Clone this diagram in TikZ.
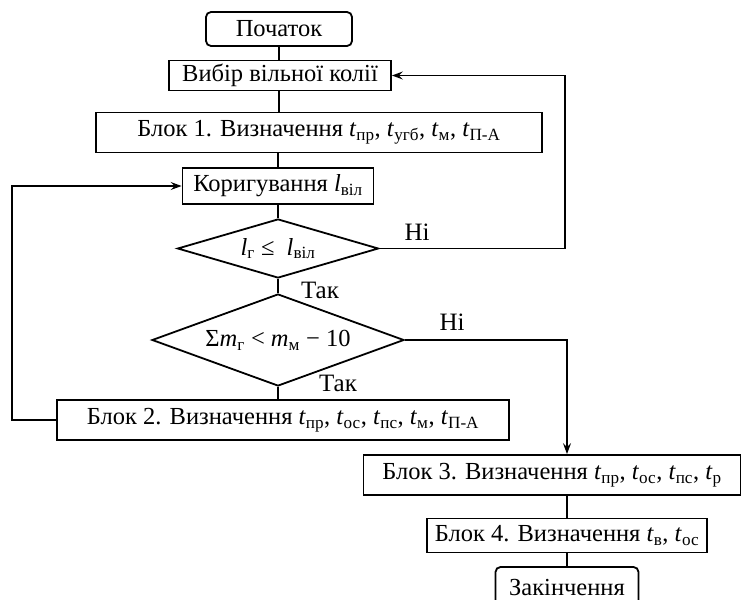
\documentclass[tikz,border=0pt]{standalone}
\usepackage{fontspec}
\setmainfont{Liberation Serif}
\usetikzlibrary{shapes.geometric,arrows.meta}
\newcommand{\vel}[2]{\textit{#1}\textsubscript{#2}}

\begin{document}
\begin{tikzpicture}[x=1pt, y=-1pt,
        lnk/.style={line width=1.8pt},
        strl/.style={lnk, -{Stealth[length=11pt, width=8pt, inset=4pt]}},
        blok/.style={draw, line width=1.8pt, inner sep=0pt, font=\fontsize{24.5}{28}\selectfont},
        term/.style={blok, rounded corners=5pt},
        umova/.style={blok, diamond, aspect=3},
        pidpys/.style={font=\fontsize{25}{28}\selectfont, inner sep=0pt}]
    \useasboundingbox (0,0) rectangle (743,599);

    \node[term, minimum width=146, minimum height=34] (pochatok) at (279,29) {Початок};
    \node[blok, minimum width=222, minimum height=30] (vybir) at (280,75.5) {Вибір вільної колії};
    \node[blok, minimum width=446, minimum height=40] (blok1) at (319,132.5) {Блок 1. Визначення \vel{t}{пр}, \vel{t}{угб}, \vel{t}{м}, \vel{t}{П-А}};
    \node[blok, minimum width=191, minimum height=36] (koryg) at (278,186) {Коригування \vel{l}{віл}};
    \node[umova, minimum width=201, minimum height=59] (umova1) at (278,248.5) {\vel{l}{г} ≤ \ \vel{l}{віл}};
    \node[umova, minimum width=252, minimum height=92] (umova2) at (278,340) {Σ\vel{m}{г} < \vel{m}{м} − 10};
    \node[blok, minimum width=452, minimum height=40] (blok2) at (283,420) {Блок 2. Визначення \vel{t}{пр}, \vel{t}{ос}, \vel{t}{пс}, \vel{t}{м}, \vel{t}{П-А}};
    \node[blok, minimum width=377, minimum height=40] (blok3) at (552,475) {Блок 3. Визначення \vel{t}{пр}, \vel{t}{ос}, \vel{t}{пс}, \vel{t}{р}};
    \node[blok, minimum width=280, minimum height=34] (blok4) at (567,535.5) {Блок 4. Визначення \vel{t}{в}, \vel{t}{ос}};
    \node[term, minimum width=143, minimum height=40] (kinets) at (567,587) {Закінчення};

    \node[pidpys] (ni1) at (417,232) {Ні};
    \node[pidpys] (tak1) at (320,290) {Так};
    \node[pidpys] (ni2) at (452,322) {Ні};
    \node[pidpys] (tak2) at (338,383) {Так};

    \coordinate (sprava) at (565,0);
    \coordinate (zliva) at (12,0);

    \draw[lnk] (pochatok) -- (pochatok |- vybir.north);
    \draw[lnk] (pochatok |- vybir.south) -- (pochatok |- blok1.north);
    \draw[lnk] (koryg |- blok1.south) -- (koryg);
    \draw[lnk] (koryg) -- (umova1);
    \draw[lnk] (umova1) -- (umova2);
    \draw[lnk] (umova2) -- (umova2 |- blok2.north);
    \draw[strl] (umova1.east) -- (umova1.east -| sprava) |- (vybir.east);
    \draw[strl] (umova2.east) -| (blok4 |- blok3.north);
    \draw[strl] (blok2.west) -- (blok2.west -| zliva) |- (koryg.west);
    \draw[lnk] (blok4 |- blok3.south) -- (blok4);
    \draw[lnk] (blok4) -- (kinets);
\end{tikzpicture}
\end{document}
